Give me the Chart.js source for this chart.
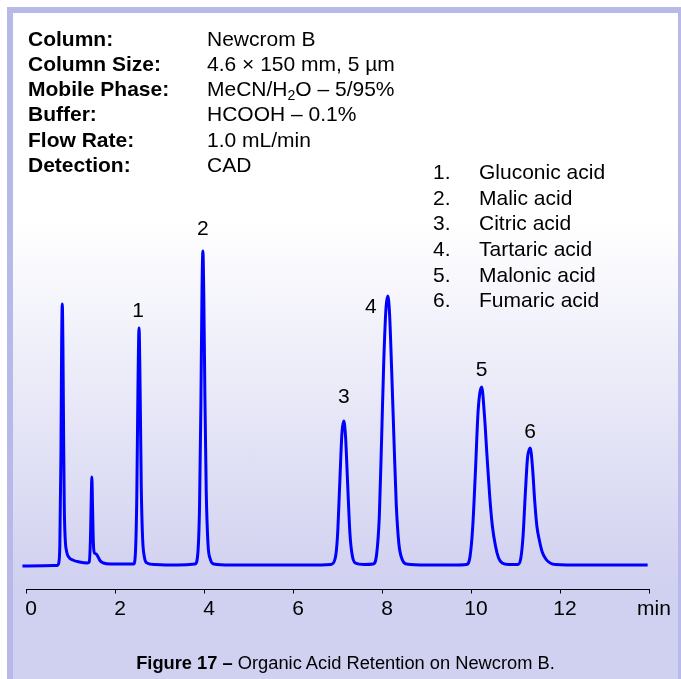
<!DOCTYPE html>
<html>
<head>
<meta charset="utf-8">
<script src="https://cdn.jsdelivr.net/npm/chart.js@4.4.1/dist/chart.umd.min.js"></script>
<style>
  html, body { margin: 0; padding: 0; width: 681px; height: 679px; overflow: hidden; background: #ffffff; }
  body { position: relative; font-family: "Liberation Sans", Arial, sans-serif; color: #000; }
  #frame { position: absolute; left: 7px; top: 7px; width: 665px; height: 700px;
           border: 6px solid #b9b9e9; border-bottom: none;
           background: linear-gradient(to bottom, #ffffff 0px, #ffffff 210px, #d0d0f0 575px, #d0d0f0 700px); }
  #wrap { position: absolute; left: 0; top: 0; width: 681px; height: 679px; }
  .txt { position: absolute; font-size: 21px; white-space: nowrap; }
  #infoL { left: 28px; top: 25.6px; line-height: 25.3px; font-weight: bold; }
  #infoV { left: 207px; top: 25.6px; line-height: 25.3px; }
  #legN { left: 433px; top: 159.2px; line-height: 25.6px; }
  #legT { left: 479px; top: 159.2px; line-height: 25.6px; }
  sub { font-size: 14px; line-height: 0; vertical-align: -4px; }
  #caption { position: absolute; left: 13px; width: 665px; top: 651px; line-height: 24px; text-align: center; font-size: 18.3px; white-space: nowrap; }
</style>
</head>
<body>
<div id="frame"></div>
<div id="wrap"><canvas id="c"></canvas></div>
<div class="txt" id="infoL">Column:<br>Column Size:<br>Mobile Phase:<br>Buffer:<br>Flow Rate:<br>Detection:</div>
<div class="txt" id="infoV">Newcrom B<br>4.6 × 150 mm, 5 µm<br>MeCN/H<sub>2</sub>O – 5/95%<br>HCOOH – 0.1%<br>1.0 mL/min<br>CAD</div>
<div class="txt" id="legN">1.<br>2.<br>3.<br>4.<br>5.<br>6.</div>
<div class="txt" id="legT">Gluconic acid<br>Malic acid<br>Citric acid<br>Tartaric acid<br>Malonic acid<br>Fumaric acid</div>
<div id="caption"><b>Figure 17 –</b> Organic Acid Retention on Newcrom B.</div>
<script>
// ---- data ----
const timesMin = [-0.08, 0.70, 0.73, 0.76, 0.785, 0.80, 0.815, 0.83, 0.845, 0.86, 0.88, 0.91, 0.96, 1.05, 1.20,
  1.38, 1.42, 1.45, 1.47, 1.48, 1.495, 1.515, 1.54, 1.58, 1.62, 1.67, 1.74, 1.90, 2.20,
  2.42, 2.46, 2.49, 2.515, 2.54, 2.565, 2.59, 2.62, 2.66, 2.72, 2.90, 3.40,
  3.80, 3.86, 3.90, 3.93, 3.955, 3.975, 3.995, 4.02, 4.05, 4.09, 4.14, 4.22, 4.60, 5.50, 6.40,
  6.85, 6.95, 7.00, 7.05, 7.10, 7.14, 7.18, 7.23, 7.28, 7.33, 7.40, 7.60,
  7.80, 7.88, 7.94, 7.99, 8.04, 8.09, 8.13, 8.17, 8.22, 8.27, 8.32, 8.38, 8.45, 8.55, 9.00, 9.60,
  9.90, 9.98, 10.04, 10.10, 10.16, 10.24, 10.30, 10.36, 10.42, 10.48, 10.55, 10.62, 10.70, 10.85,
  11.05, 11.12, 11.17, 11.22, 11.27, 11.33, 11.38, 11.43, 11.48, 11.54, 11.60, 11.68, 11.78, 11.90,
  12.50, 13.20, 13.97];
const signal = [0, 0.5, 2, 20, 110, 215, 262, 220, 130, 60, 28, 15, 9, 6, 4,
  3, 4, 30, 75, 89, 60, 22, 13, 12, 9, 5, 3, 2, 2,
  2, 14, 70, 175, 238, 175, 80, 28, 9, 3, 1.5, 1,
  2, 12, 60, 160, 275, 315, 272, 170, 75, 22, 7, 2, 1, 1, 1,
  1.5, 8, 30, 82, 133, 145, 130, 80, 32, 11, 3, 1.5,
  2, 12, 50, 125, 205, 258, 270, 252, 192, 125, 62, 22, 7, 2, 1, 1,
  1.5, 10, 40, 95, 155, 179, 152, 110, 70, 40, 20, 8, 3, 1.5,
  1.5, 8, 30, 72, 108, 118, 100, 66, 40, 25, 14, 7, 3, 1.5,
  1, 1, 1];
const peakNumbers = ['1', '2', '3', '4', '5', '6'];
const peakTimes = [2.54, 3.975, 7.14, 8.13, 10.24, 11.33];
const peakHeights = [238, 315, 145, 270, 179, 118];
const xTickValues = [0, 2, 4, 6, 8, 10, 12, 14];
const xTickLabels = ['0', '2', '4', '6', '8', '10', '12', 'min'];

// ---- styling ----
const FONT = '"Liberation Sans", Arial, sans-serif';
const peakLabelOffsets = [[-1, -17], [0, -22], [0, -24], [-17, 11], [0, -17], [0, -16]];

const peakLabelPlugin = {
  id: 'peakLabels',
  afterDatasetsDraw(chart) {
    const ctx = chart.ctx, xs = chart.scales.x, ys = chart.scales.y;
    ctx.save();
    ctx.font = '21px ' + FONT;
    ctx.fillStyle = '#000';
    ctx.textAlign = 'center';
    ctx.textBaseline = 'middle';
    peakNumbers.forEach((lab, i) => {
      const x = xs.getPixelForValue(peakTimes[i]) + peakLabelOffsets[i][0];
      const y = ys.getPixelForValue(peakHeights[i]) + peakLabelOffsets[i][1];
      ctx.fillText(lab, x, y);
    });
    ctx.restore();
  }
};

new Chart(document.getElementById('c'), {
  type: 'line',
  data: {
    datasets: [{
      data: timesMin.map((t, i) => ({ x: t, y: signal[i] })),
      borderColor: '#0000ff',
      borderWidth: 3,
      pointRadius: 0,
      fill: false,
      tension: 0.4,
      cubicInterpolationMode: 'monotone',
      clip: false
    }]
  },
  options: {
    responsive: true,
    maintainAspectRatio: false,
    animation: false,
    layout: { padding: { left: 26, right: 32, top: 80, bottom: 44.5 } },
    plugins: { legend: { display: false }, tooltip: { enabled: false } },
    scales: {
      x: {
        type: 'linear',
        min: 0, max: 14,
        afterBuildTicks: (s) => { s.ticks = xTickValues.map(v => ({ value: v })); },
        afterFit: (s) => { s.height = 45; },
        border: { display: true, color: '#000', width: 1 },
        grid: { display: true, drawOnChartArea: false, drawTicks: true, tickLength: 4, color: '#000', tickColor: '#000' },
        ticks: {
          color: '#000',
          font: { family: FONT, size: 21 },
          padding: 3,
          labelOffset: 5,
          maxRotation: 0,
          autoSkip: false,
          callback: (v) => { const i = xTickValues.indexOf(v); return i >= 0 ? xTickLabels[i] : ''; }
        }
      },
      y: { display: false, min: -23.5, max: 486 }
    }
  },
  plugins: [peakLabelPlugin]
});
</script>
</body>
</html>
